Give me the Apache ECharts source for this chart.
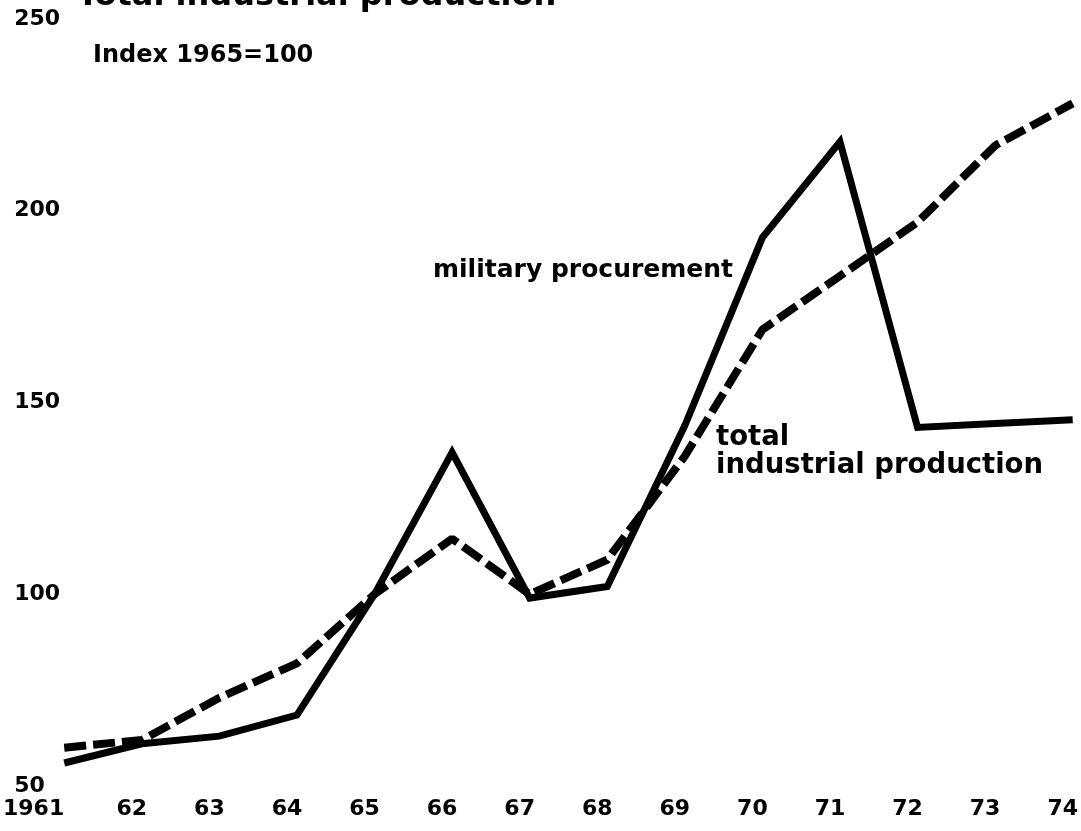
<!DOCTYPE html>
<html>
<head>
<meta charset="utf-8">
<script src="https://cdn.jsdelivr.net/npm/echarts@6/dist/echarts.min.js"></script>
<style>
  html, body { margin: 0; padding: 0; background: #fff; }
  #chart { width: 1081px; height: 831px; }
</style>
</head>
<body>
<div id="chart"></div>
<script>
// years on the x axis
const years = ['1961', '62', '63', '64', '65', '66', '67', '68', '69', '70', '71', '72', '73', '74']
// index 1965 = 100
const military = [56, 61, 63, 68.5, 100, 137, 99, 102, 144, 193, 218, 143.5, 144.5, 145.5]
const industrial = [60, 62, 73, 82, 100, 114.5, 100, 109, 136, 169, 183, 197, 217, 228]
const yTicks = [50, 100, 150, 200, 250]

const font = 'DejaVu Sans'
const chart = echarts.init(document.getElementById('chart'))

const option = {
  backgroundColor: '#fff',
  animation: false,
  title: {
    text: 'Total industrial production',
    left: 72,
    top: -24,
    textStyle: { fontFamily: font, fontWeight: 'bold', fontSize: 32, color: '#000' }
  },
  grid: { left: 62, right: 6, top: 19, bottom: 45 },
  xAxis: {
    type: 'category',
    boundaryGap: false,
    // first label sits left of its point
    data: years.map((y, i) => i === 0 ? { value: y, textStyle: { align: 'right', padding: 0 } } : y),
    axisLine: { show: false },
    axisTick: { show: false },
    splitLine: { show: false },
    axisLabel: {
      interval: 0,
      margin: 12,
      padding: [0, 20, 0, 0],
      fontFamily: font,
      fontWeight: 'bold',
      fontSize: 22,
      color: '#000'
    }
  },
  yAxis: {
    type: 'value',
    min: yTicks[0],
    max: yTicks[yTicks.length - 1],
    interval: 50,
    axisLine: { show: false },
    axisTick: { show: false },
    splitLine: { show: false },
    axisLabel: {
      align: 'left',
      margin: 50,
      fontFamily: font,
      fontWeight: 'bold',
      fontSize: 22,
      color: '#000'
    }
  },
  graphic: [
    {
      type: 'text', left: 93, top: 44,
      style: { text: 'Index 1965=100', font: 'bold 24px "DejaVu Sans"', fill: '#000' }
    },
    {
      type: 'text', left: 433, top: 258,
      style: { text: 'military procurement', font: 'bold 25px "DejaVu Sans"', fill: '#000' }
    },
    {
      type: 'text', left: 716, top: 424,
      style: { text: 'total\nindustrial production', font: 'bold 27.5px "DejaVu Sans"', lineHeight: 28, fill: '#000' }
    }
  ],
  series: [
    {
      name: 'military procurement',
      type: 'line',
      data: military,
      symbol: 'none',
      lineStyle: { color: '#000', width: 7, join: 'miter' }
    },
    {
      name: 'total industrial production',
      type: 'line',
      data: industrial,
      symbol: 'none',
      lineStyle: { color: '#000', width: 8, type: [22, 7] }
    }
  ]
}

chart.setOption(option)
</script>
</body>
</html>
